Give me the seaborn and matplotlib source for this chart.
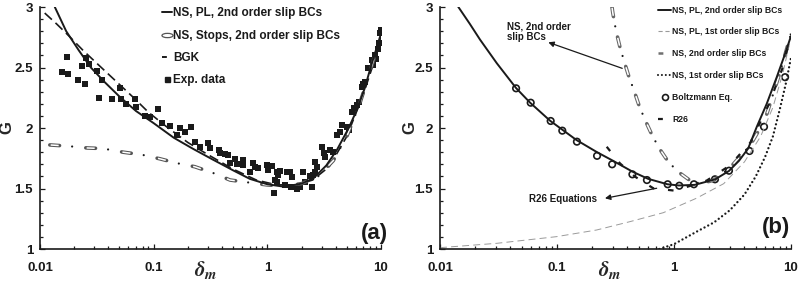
import matplotlib
matplotlib.use("Agg")
import matplotlib.pyplot as plt
import seaborn as sns
import numpy as np
import pandas as pd
from matplotlib.lines import Line2D
from matplotlib.path import Path
from matplotlib.font_manager import FontProperties

# ---------------- data ----------------
x_ticks = [0.01, 0.1, 1, 10]
x_tick_labels = ["0.01", "0.1", "1", "10"]
y_ticks = [1, 1.5, 2, 2.5, 3]
y_tick_labels = ["1", "1.5", "2", "2.5", "3"]

# panel (a)
a_pl2_x = [0.0135, 0.017, 0.022, 0.028, 0.037, 0.05, 0.07, 0.1, 0.15, 0.22, 0.33, 0.5, 0.7,
           1.0, 1.4, 2.0, 2.55, 3.3, 4.1, 5.2, 6.2, 7.2, 8.1, 9.0, 10]
a_pl2_y = [3.00, 2.80, 2.64, 2.50, 2.38, 2.26, 2.14, 2.04, 1.92, 1.83, 1.74, 1.65, 1.58,
           1.535, 1.515, 1.54, 1.585, 1.69, 1.82, 2.00, 2.16, 2.33, 2.50, 2.64, 2.78]

a_stops_x = [0.0122, 0.0178, 0.026, 0.036, 0.054, 0.078, 0.114, 0.159, 0.23, 0.33, 0.47, 0.68,
             0.99, 1.4, 2.0, 2.8, 3.8, 5.0, 6.5, 8.2, 10]
a_stops_y = [1.86, 1.85, 1.835, 1.83, 1.80, 1.78, 1.745, 1.71, 1.68, 1.63, 1.57, 1.55,
             1.53, 1.52, 1.54, 1.60, 1.73, 1.93, 2.20, 2.50, 2.76]

a_bgk_x = [0.011, 0.014, 0.018, 0.024, 0.032, 0.045, 0.065, 0.09, 0.13, 0.2, 0.3, 0.5, 0.8,
           1.2, 1.8, 2.5, 3.5, 5, 7, 8.5, 10]
a_bgk_y = [2.95, 2.86, 2.76, 2.64, 2.53, 2.40, 2.26, 2.13, 2.01, 1.88, 1.78, 1.66, 1.57,
           1.53, 1.53, 1.57, 1.68, 1.93, 2.28, 2.52, 2.76]

exp_x = [0.0155, 0.0174, 0.0177, 0.0217, 0.0236, 0.0249, 0.0254, 0.0272, 0.0316, 0.0349,
         0.0333, 0.0428, 0.0506, 0.0513, 0.0571, 0.0686, 0.070, 0.084, 0.093, 0.110,
         0.119, 0.139, 0.171, 0.189, 0.212, 0.160, 0.231, 0.256, 0.303, 0.313,
         0.372, 0.385, 0.425, 0.455, 0.471, 0.521, 0.546, 0.608, 0.617, 0.706,
         0.755, 0.782, 0.836, 0.991, 1.023, 1.096, 1.213, 1.253, 1.297, 1.172,
         1.228, 1.148, 1.485, 1.588, 1.435, 1.60, 1.643, 1.820, 1.945, 2.080,
         2.153, 2.382, 2.466, 2.636, 2.729, 2.60, 2.547, 3.02, 3.12, 3.23,
         3.57, 3.82, 4.09, 4.38, 4.53, 5.01, 5.28, 5.55, 5.81, 6.14,
         6.34, 6.79, 6.9, 7.26, 7.76, 8.32, 8.5, 8.89, 9.1, 9.4, 9.51, 9.84, 10.0]
exp_y = [2.46, 2.59, 2.45, 2.40, 2.51, 2.36, 2.58, 2.53, 2.47, 2.40,
         2.25, 2.24, 2.33, 2.24, 2.20, 2.24, 2.17, 2.10, 2.09, 2.16,
         2.04, 2.02, 2.00, 1.97, 2.01, 1.94, 1.887, 1.845, 1.874, 1.832,
         1.818, 1.791, 1.785, 1.777, 1.713, 1.741, 1.702, 1.736, 1.692, 1.639,
         1.708, 1.680, 1.667, 1.694, 1.653, 1.686, 1.639, 1.612, 1.647, 1.570,
         1.556, 1.460, 1.639, 1.639, 1.529, 1.515, 1.593, 1.493, 1.510, 1.639,
         1.556, 1.603, 1.510, 1.721, 1.680, 1.639, 1.612, 1.845, 1.791, 1.763,
         1.818, 1.804, 1.942, 1.969, 2.025, 2.011, 1.983, 2.135, 2.163, 2.190,
         2.217, 2.34, 2.36, 2.383, 2.493, 2.562, 2.52, 2.603, 2.57, 2.65, 2.70, 2.783, 2.81]

# panel (b)
b_pl2_x = [0.0139, 0.018, 0.022, 0.0306, 0.0447, 0.0588, 0.0873, 0.147, 0.22, 0.3, 0.44, 0.6,
           0.88, 1.1, 1.5, 2.24, 2.95, 3.6, 4.3, 5.1, 6.2, 7.55, 8.8, 10]
b_pl2_y = [3.02, 2.86, 2.73, 2.535, 2.33, 2.21, 2.06, 1.90, 1.80, 1.73, 1.64, 1.58,
           1.535, 1.525, 1.53, 1.575, 1.645, 1.73, 1.83, 2.01, 2.20, 2.42, 2.60, 2.76]

b_pl1_x = [0.01, 0.0306, 0.099, 0.218, 0.42, 0.81, 1.56, 2.66, 4.0, 5.5, 7.0, 8.5, 10]
b_pl1_y = [1.011, 1.047, 1.102, 1.157, 1.226, 1.30, 1.42, 1.54, 1.72, 1.93, 2.17, 2.45, 2.75]

b_ns2_x = [0.295, 0.30, 0.32, 0.345, 0.375, 0.41, 0.455, 0.505, 0.57, 0.65, 0.75, 0.91, 1.15,
           1.4, 1.7, 2.2, 3.0, 4.5, 6.0, 8.0, 10]
b_ns2_y = [3.00, 2.95, 2.80, 2.67, 2.55, 2.43, 2.31, 2.18, 2.06, 1.94, 1.83, 1.71, 1.62,
           1.56, 1.54, 1.57, 1.67, 1.86, 2.07, 2.45, 2.78]

b_ns1_x = [0.75, 1.0, 1.56, 2.2, 3.0, 4.0, 5.0, 6.0, 7.0, 8.0, 9.0, 10]
b_ns1_y = [1.00, 1.04, 1.143, 1.22, 1.32, 1.45, 1.60, 1.76, 1.93, 2.15, 2.36, 2.58]

boltz_x = [0.0447, 0.0596, 0.0883, 0.111, 0.148, 0.220, 0.296, 0.441, 0.587, 0.883, 1.11,
           1.48, 2.24, 2.95, 4.42, 5.88, 8.9]
boltz_y = [2.328, 2.209, 2.058, 1.978, 1.887, 1.770, 1.700, 1.617, 1.570, 1.535, 1.523,
           1.535, 1.576, 1.647, 1.81, 2.01, 2.42]

r26_x = [0.266, 0.345, 0.464, 0.665, 1.02, 1.9, 3.0, 4.5, 6.5, 8.5, 10]
r26_y = [1.845, 1.708, 1.598, 1.502, 1.482, 1.565, 1.69, 1.88, 2.20, 2.50, 2.78]

legend_a = ["NS, PL, 2nd order slip BCs", "NS, Stops, 2nd order slip BCs", "BGK", "Exp. data"]
legend_b = ["NS, PL, 2nd order slip BCs", "NS, PL, 1st order slip BCs", "NS, 2nd order slip BCs",
            "NS, 1st order slip BCs", "Boltzmann Eq.", "R26"]

# ---------------- style ----------------
sns.set_style("ticks")
plt.rcParams["font.family"] = ["Liberation Sans", "DejaVu Sans"]
plt.rcParams["font.weight"] = "bold"
plt.rcParams["mathtext.fontset"] = "stix"
plt.rcParams["lines.scale_dashes"] = False
plt.rcParams["text.color"] = "#1a1a1a"

INK = "#1a1a1a"
fig = plt.figure(figsize=(8.03, 2.84), dpi=100)
ax1 = fig.add_axes([40 / 803, 35 / 284, 341 / 803, 242 / 284])
ax2 = fig.add_axes([440 / 803, 35 / 284, 351 / 803, 242 / 284])


def line(ax, x, y, **kw):
    df = pd.DataFrame({"x": x, "y": y})
    sns.lineplot(data=df, x="x", y="y", ax=ax, estimator=None, sort=False, legend=False, **kw)


def hollow_dashdot(ax, x, y, edge, period, dash, outer_lw=2.6, inner_lw=1.1):
    gap = period - dash
    line(ax, x, y, color=edge, lw=outer_lw, linestyle=(0, (dash, gap)), dash_capstyle="round")
    line(ax, x, y, color="white", lw=inner_lw,
         linestyle=(period - 0.6, (dash - 1.2, gap + 1.2)), dash_capstyle="butt")
    dot_pos = dash + gap / 2 - 0.4
    line(ax, x, y, color=INK, lw=1.6,
         linestyle=(period - dot_pos, (0.01, period - 0.01)), dash_capstyle="round")


# ---- panel (a)
line(ax1, a_bgk_x, a_bgk_y, color=INK, lw=1.2, linestyle=(0, (7, 3.5)))
hollow_dashdot(ax1, a_stops_x, a_stops_y, "#555555", 26, 7)
line(ax1, a_pl2_x, a_pl2_y, color=INK, lw=1.4)
sns.scatterplot(x=exp_x, y=exp_y, ax=ax1, marker="s", color=INK, s=14, linewidth=0, legend=False)

# ---- panel (b)
line(ax2, b_pl1_x, b_pl1_y, color="#9a9a9a", lw=0.7, linestyle=(0, (5, 3)))
line(ax2, b_ns1_x, b_ns1_y, color=INK, lw=1.7, linestyle=(0, (0.01, 3.0)), dash_capstyle="round")
hollow_dashdot(ax2, b_ns2_x, b_ns2_y, "#666666", 22, 7)
line(ax2, b_pl2_x, b_pl2_y, color=INK, lw=1.4)
line(ax2, r26_x, r26_y, color=INK, lw=1.6, linestyle=(0, (4, 10)))
sns.scatterplot(x=boltz_x, y=boltz_y, ax=ax2, marker="o", s=22, facecolor="none",
                edgecolor=INK, linewidth=1.2, legend=False)

# ---------------- axes ----------------
for ax in (ax1, ax2):
    ax.set_xscale("log")
    ax.set_xlim(0.01, 10)
    ax.set_ylim(1, 3)
    ax.set_xticks(x_ticks, labels=x_tick_labels)
    ax.set_yticks(y_ticks, labels=y_tick_labels)
    ax.set_yticks(np.arange(1, 3.0001, 0.1), minor=True)
    ax.tick_params(which="both", direction="in", color=INK, width=0.9, labelsize=9.5,
                   labelcolor=INK)
    ax.tick_params(which="major", length=3.6)
    ax.tick_params(which="minor", length=2.2)
    ax.tick_params(axis="x", pad=9.5)
    ax.tick_params(axis="y", pad=5)
    for s in ("top", "right"):
        ax.spines[s].set_visible(False)
    for s in ("left", "bottom"):
        ax.spines[s].set_color(INK)
        ax.spines[s].set_linewidth(1.2)
    ax.set_xlabel(r"$\delta_m$", fontsize=15, va="center")
    ax.xaxis.set_label_coords(0.484, -0.087)
    ax.set_ylabel("G", fontsize=12, fontweight="bold")
    ax.set_facecolor("white")

ax1.yaxis.set_label_coords(-0.074, 0.5)
ax2.yaxis.set_label_coords(-0.064, 0.5)

ax1.text(1.02, 0.062, "(a)", transform=ax1.transAxes, ha="right", va="center",
         fontsize=16, fontweight="bold")
ax2.text(0.997, 0.087, "(b)", transform=ax2.transAxes, ha="right", va="center",
         fontsize=16, fontweight="bold")

# annotations in (b)
ax2.annotate("", xy=(0.0843, 2.708), xytext=(0.361, 2.493),
             arrowprops=dict(arrowstyle="-|>", color=INK, lw=0.9, mutation_scale=8,
                             shrinkA=0, shrinkB=0))
ax2.text(0.0374, 2.797, "NS, 2nd order\nslip BCs", ha="left", va="center", fontsize=7,
         fontweight="bold", linespacing=1.1)
ax2.annotate("", xy=(0.257, 1.419), xytext=(0.711, 1.502),
             arrowprops=dict(arrowstyle="-|>", color=INK, lw=0.9, mutation_scale=8,
                             shrinkA=0, shrinkB=0))
ax2.text(0.0576, 1.413, "R26 Equations", ha="left", va="center", fontsize=7,
         fontweight="bold")

# ---------------- legends ----------------
ell = Path.unit_circle()
ell = Path(ell.vertices * np.array([2.6, 1.0]), ell.codes)

h_a = [
    Line2D([], [], color=INK, lw=1.4),
    Line2D([], [], color="#555555", marker=ell, markersize=8, markerfacecolor="white",
           markeredgewidth=0.9, linestyle="none"),
    Line2D([], [], color=INK, lw=1.4, linestyle=(1.5, (5, 10))),
    Line2D([], [], color=INK, marker="s", markersize=3.6, linestyle="none"),
]
ax1.legend(h_a, legend_a, loc="upper left", bbox_to_anchor=(0.358, 0.998),
           bbox_transform=ax1.transAxes, frameon=False, borderpad=0, borderaxespad=0,
           handlelength=0.8, handletextpad=0.15, labelspacing=0.86,
           prop=FontProperties(family="Liberation Sans", weight="bold", size=8.5))

h_b = [
    Line2D([], [], color=INK, lw=1.4),
    Line2D([], [], color="#9a9a9a", lw=0.8, linestyle=(0, (3, 2))),
    Line2D([], [], color="#707070", lw=1.8, linestyle=(2.5, (6, 10))),
    Line2D([], [], color=INK, lw=1.5, linestyle=(0, (0.01, 2.8)), dash_capstyle="round"),
    Line2D([], [], color=INK, marker="o", markersize=4.3, markerfacecolor="none",
           markeredgewidth=1.2, linestyle="none"),
    Line2D([], [], color=INK, lw=1.6, linestyle=(2.5, (6, 10))),
]
ax2.legend(h_b, legend_b, loc="upper left", bbox_to_anchor=(0.62, 1.006),
           bbox_transform=ax2.transAxes, frameon=False, borderpad=0, borderaxespad=0,
           handlelength=1.6, handletextpad=0.1, labelspacing=1.49,
           prop=FontProperties(family="Liberation Sans", weight="bold", size=6.2))

fig.savefig("out.png", dpi=100, facecolor="white")
